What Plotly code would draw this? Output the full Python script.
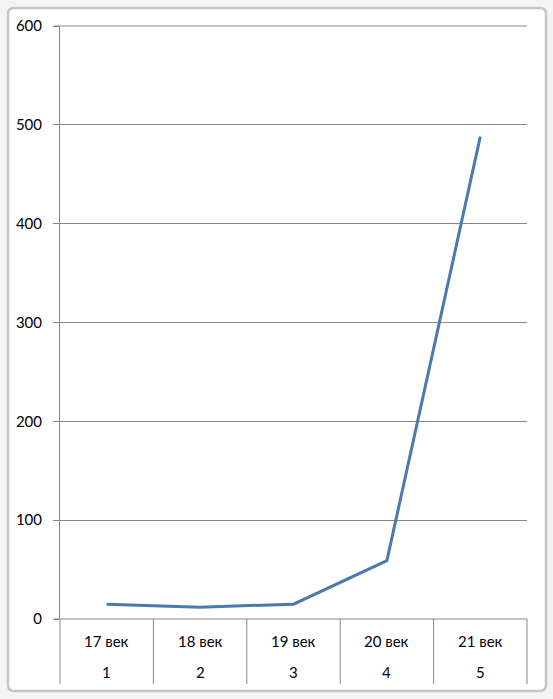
import plotly.graph_objects as go

# chart data
centuries = ["17 век", "18 век", "19 век", "20 век", "21 век"]
numbers = ["1", "2", "3", "4", "5"]
values = [15, 12, 15, 59, 488]

W, H = 553, 699
L, R, T, B = 60, 26, 26, 80
PW, PH = W - L - R, H - T - B
GRID = "#878787"
LINE = "#4a7aae"
FONT = "Lato, 'Open Sans', sans-serif"


def px_x(p):
    return (p - L) / PW


def px_y(p):
    return (H - B - p) / PH


idx = list(range(1, len(values) + 1))

fig = go.Figure(
    go.Scatter(
        x=idx,
        y=values,
        mode="lines",
        line=dict(color=LINE, width=3),
        hoverinfo="skip",
    )
)

shapes = []
# excel chart frame (rounded)
r = 6
fx0, fx1, fy0, fy1 = 8, 546, 8, 691
path = (
    f"M {px_x(fx0 + r)} {px_y(fy0)} L {px_x(fx1 - r)} {px_y(fy0)} "
    f"Q {px_x(fx1)} {px_y(fy0)} {px_x(fx1)} {px_y(fy0 + r)} "
    f"L {px_x(fx1)} {px_y(fy1 - r)} Q {px_x(fx1)} {px_y(fy1)} {px_x(fx1 - r)} {px_y(fy1)} "
    f"L {px_x(fx0 + r)} {px_y(fy1)} Q {px_x(fx0)} {px_y(fy1)} {px_x(fx0)} {px_y(fy1 - r)} "
    f"L {px_x(fx0)} {px_y(fy0 + r)} Q {px_x(fx0)} {px_y(fy0)} {px_x(fx0 + r)} {px_y(fy0)} Z"
)
shapes.append(dict(type="path", path=path, xref="paper", yref="paper",
                   fillcolor="white", line=dict(color="#c6c6c6", width=2.5), layer="below"))

# top gridline (plotly drops the one at the range edge)
shapes.append(dict(type="line", xref="paper", yref="paper",
                   x0=px_x(54), x1=1, y0=1, y1=1,
                   line=dict(color=GRID, width=1)))

# category table below the plot
table_bottom = px_y(684)
n = len(centuries)
for i in range(n + 1):
    shapes.append(dict(type="line", xref="paper", yref="paper",
                       x0=i / n, x1=i / n, y0=table_bottom, y1=0,
                       line=dict(color=GRID, width=1)))
shapes.append(dict(type="line", xref="paper", yref="paper",
                   x0=px_x(54), x1=1, y0=0, y1=0,
                   line=dict(color=GRID, width=1)))

annotations = []
for i, (c, num) in enumerate(zip(centuries, numbers)):
    annotations.append(dict(x=idx[i], y=px_y(641), xref="x", yref="paper",
                            text=c, showarrow=False, yanchor="middle",
                            font=dict(family=FONT, size=15, color="#000000")))
    annotations.append(dict(x=idx[i], y=px_y(672), xref="x", yref="paper",
                            text=num, showarrow=False, yanchor="middle",
                            font=dict(family=FONT, size=15, color="#000000")))

fig.update_layout(
    width=W,
    height=H,
    margin=dict(l=L, r=R, t=T, b=B),
    paper_bgcolor="#f4f4f4",
    plot_bgcolor="rgba(0,0,0,0)",
    showlegend=False,
    shapes=shapes,
    annotations=annotations,
    xaxis=dict(range=[0.5, 5.5], showgrid=False, zeroline=False,
               showticklabels=False, ticks="", showline=False, fixedrange=True),
    yaxis=dict(range=[0, 600], dtick=100, showgrid=True, gridcolor=GRID, gridwidth=1,
               zeroline=False, showline=True, linecolor=GRID, linewidth=1,
               ticks="outside", ticklen=6, tickcolor=GRID,
               ticklabelstandoff=8,
               tickfont=dict(family=FONT, size=15, color="#000000"), fixedrange=True),
)

fig.write_html("out.html", config={"displayModeBar": False},
               post_script="document.body.style.margin='0';")
